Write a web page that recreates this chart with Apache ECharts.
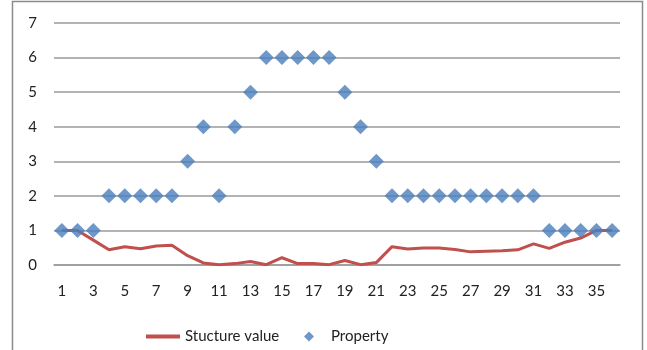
<!DOCTYPE html>
<html>
<head>
<meta charset="utf-8">
<script src="https://cdn.jsdelivr.net/npm/echarts@6/dist/echarts.min.js"></script>
<style>
  html, body { margin: 0; padding: 0; background: #ffffff; }
  #chart { width: 647px; height: 350px; }
</style>
</head>
<body>
<div id="chart"></div>
<script>
// Sample indices 1..36
const categories = Array.from({ length: 36 }, (_, i) => String(i + 1));

// Structure value per sample (line)
const structureValues = [
  1.00, 1.00, 0.72, 0.44, 0.53, 0.47, 0.55, 0.57, 0.27, 0.06,
  0.01, 0.04, 0.10, 0.01, 0.21, 0.04, 0.04, 0.01, 0.13, 0.01,
  0.07, 0.53, 0.46, 0.49, 0.49, 0.45, 0.38, 0.40, 0.41, 0.44,
  0.61, 0.48, 0.66, 0.78, 1.00, 1.00
];

// Property class per sample (diamond markers)
const propertyValues = [
  1, 1, 1, 2, 2, 2, 2, 2, 3, 4,
  2, 4, 5, 6, 6, 6, 6, 6, 5, 4,
  3, 2, 2, 2, 2, 2, 2, 2, 2, 2,
  2, 1, 1, 1, 1, 1
];

const yTicks = { min: 0, max: 7, interval: 1 };

const font = 'Lato, "Open Sans", sans-serif';
const lineColor = '#C0504D';
const markerColor = '#4A7EBB';
const gridColor = '#9a9a9a';

const chart = echarts.init(document.getElementById('chart'), null, { renderer: 'canvas' });

chart.setOption({
  animation: false,
  backgroundColor: '#ffffff',
  graphic: [{
    type: 'rect',
    shape: { x: 12.5, y: 1.5, width: 630, height: 360 },
    style: { fill: 'none', stroke: '#8c8c8c', lineWidth: 1.5 },
    silent: true
  }],
  grid: { left: 54, right: 27, top: 23, bottom: 85, containLabel: false },
  legend: [{
    data: [{ name: 'Stucture value', icon: 'rect' }],
    left: 141, top: 324,
    itemWidth: 34, itemHeight: 4,
    textStyle: { fontFamily: font, fontSize: 15, color: '#222' }
  }, {
    data: [{ name: 'Property', icon: 'diamond' }],
    left: 299, top: 324,
    itemWidth: 10, itemHeight: 10,
    textStyle: { fontFamily: font, fontSize: 15, color: '#222', padding: [0, 0, 0, 12] }
  }],
  xAxis: {
    type: 'category',
    data: categories,
    boundaryGap: true,
    axisLine: { show: true, lineStyle: { color: gridColor, width: 1.5 } },
    axisTick: { show: false },
    axisLabel: {
      interval: 1,
      margin: 19,
      fontFamily: font, fontSize: 15, color: '#222'
    },
    splitLine: { show: false }
  },
  yAxis: {
    type: 'value',
    min: yTicks.min, max: yTicks.max, interval: yTicks.interval,
    axisLine: { show: false },
    axisTick: { show: false },
    axisLabel: { margin: 17, fontFamily: font, fontSize: 15, color: '#222' },
    splitLine: { show: true, lineStyle: { color: gridColor, width: 1.5 } }
  },
  series: [{
    name: 'Stucture value',
    type: 'line',
    data: structureValues,
    showSymbol: false,
    symbol: 'none',
    lineStyle: { color: lineColor, width: 3 },
    itemStyle: { color: lineColor },
    z: 2
  }, {
    name: 'Property',
    type: 'scatter',
    data: propertyValues,
    symbol: 'diamond',
    symbolSize: 15,
    itemStyle: { color: markerColor },
    z: 3
  }]
});
</script>
</body>
</html>
